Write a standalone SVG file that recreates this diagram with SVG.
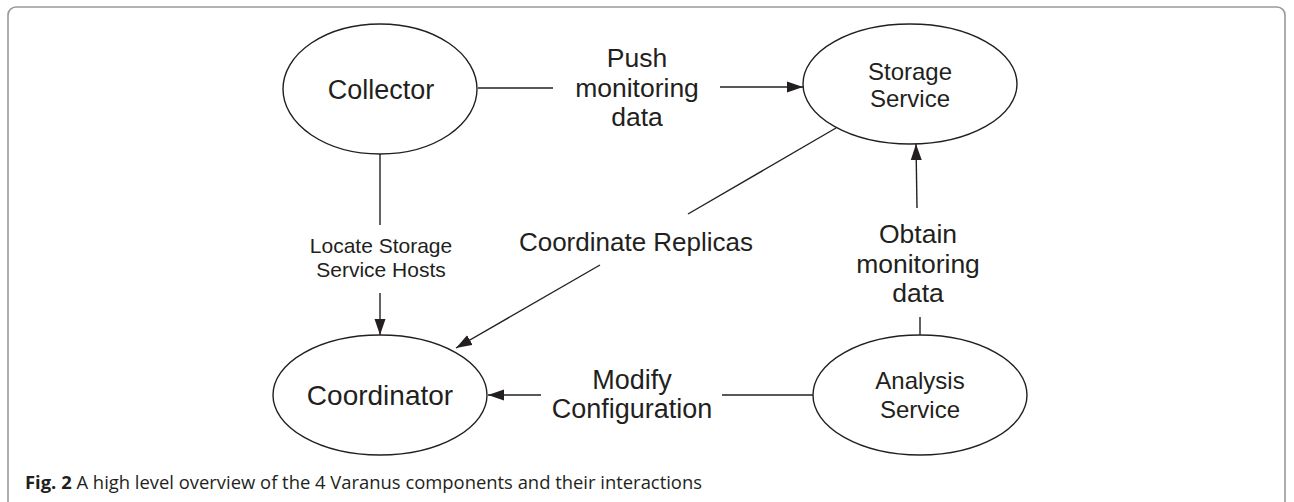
<svg xmlns="http://www.w3.org/2000/svg" width="1294" height="502" viewBox="0 0 1294 502">
<style>
.node{fill:#fff;stroke:#231f20;stroke-width:1.4}
.conn{stroke:#231f20;stroke-width:1.4;fill:none}
.t{font-family:"Liberation Sans",Arial,sans-serif;fill:#231f20;text-anchor:middle}
.cap{font-family:"Open Sans","Noto Sans",sans-serif;fill:#231f20;font-size:18px}
</style>
<defs>
<marker id="arr" markerUnits="userSpaceOnUse" markerWidth="17" markerHeight="12" refX="16" refY="6" orient="auto">
<path d="M0,0.5 L16,6 L0,11.5 z" fill="#231f20"/>
</marker>
</defs>
<rect x="8" y="7" width="1277" height="520" rx="8" ry="8" fill="#fff" stroke="#999" stroke-width="1.6"/>
<g id="connectors">
<line class="conn" x1="478" y1="88" x2="553" y2="88"/>
<line class="conn" x1="720" y1="87" x2="803" y2="87" marker-end="url(#arr)"/>
<line class="conn" x1="380" y1="154" x2="380" y2="225"/>
<line class="conn" x1="380" y1="293" x2="380" y2="335" marker-end="url(#arr)"/>
<line class="conn" x1="836" y1="128" x2="688" y2="214"/>
<line class="conn" x1="600" y1="265" x2="456" y2="348" marker-end="url(#arr)"/>
<line class="conn" x1="813" y1="395" x2="722" y2="395"/>
<line class="conn" x1="541" y1="395" x2="488" y2="395" marker-end="url(#arr)"/>
<line class="conn" x1="920" y1="335" x2="920" y2="317"/>
<line class="conn" x1="917" y1="208" x2="916" y2="144" marker-end="url(#arr)"/>
<text class="t" font-size="26.5"><tspan x="637" y="67">Push</tspan><tspan x="637" y="97">monitoring</tspan><tspan x="637" y="126">data</tspan></text>
<text class="t" font-size="21" x="381" y="253">Locate Storage</text>
<text class="t" font-size="21" x="381" y="277">Service Hosts</text>
<text class="t" font-size="26" x="636" y="251">Coordinate Replicas</text>
<text class="t" font-size="26.5"><tspan x="918" y="243">Obtain</tspan><tspan x="918" y="273">monitoring</tspan><tspan x="918" y="302">data</tspan></text>
<text class="t" font-size="27"><tspan x="632" y="389">Modify</tspan><tspan x="632" y="418">Configuration</tspan></text>
</g>
<g id="collector">
<ellipse class="node" cx="380" cy="89" rx="97" ry="65"/>
<text class="t" font-size="27" x="381" y="99">Collector</text>
</g>
<g id="storage">
<ellipse class="node" cx="910" cy="84" rx="107" ry="60"/>
<text class="t" font-size="24"><tspan x="910" y="80">Storage</tspan><tspan x="910" y="107">Service</tspan></text>
</g>
<g id="coordinator">
<ellipse class="node" cx="380" cy="395" rx="107" ry="60"/>
<text class="t" font-size="28" x="380" y="405">Coordinator</text>
</g>
<g id="analysis">
<ellipse class="node" cx="920" cy="395" rx="107" ry="60"/>
<text class="t" font-size="24"><tspan x="920" y="389">Analysis</tspan><tspan x="920" y="418">Service</tspan></text>
</g>
<text class="cap" x="25" y="489" textLength="677" lengthAdjust="spacingAndGlyphs"><tspan font-weight="bold">Fig. 2</tspan> A high level overview of the 4 Varanus components and their interactions</text>
</svg>
